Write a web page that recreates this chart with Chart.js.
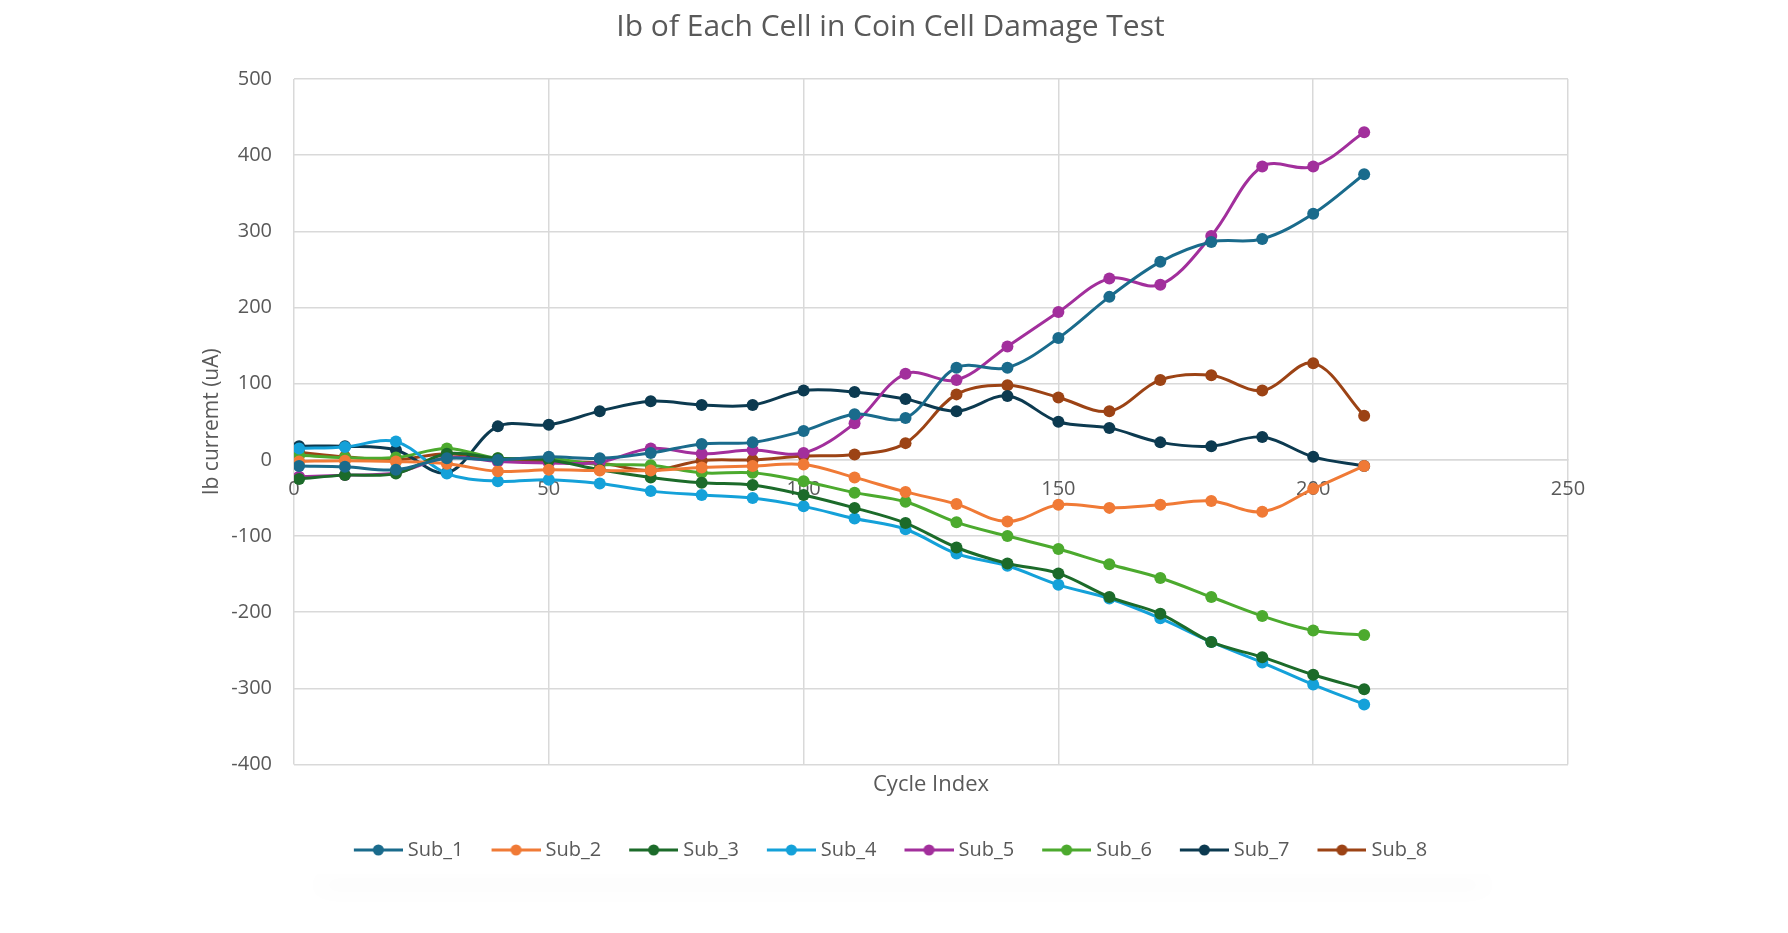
<!DOCTYPE html>
<html>
<head>
<meta charset="utf-8">
<title>Ib of Each Cell in Coin Cell Damage Test</title>
<script src="https://cdn.jsdelivr.net/npm/chart.js@4/dist/chart.umd.min.js"></script>
<style>
    html, body { margin: 0; padding: 0; background: #ffffff; }
    #wrap { position: relative; width: 1788px; height: 933px; }
    #card {
        position: absolute; left: 310px; top: 860px; width: 1185px; height: 14px;
        background: #ffffff;
        box-shadow: 0 18px 24px -6px rgba(0, 0, 0, 0.13);
    }
    #chart { position: absolute; left: 0; top: 0; }
</style>
</head>
<body>
<div id="wrap">
    <div id="card"></div>
    <canvas id="chart" width="1788" height="933"></canvas>
</div>
<script>
// Cycle index of each measurement
const cycles = [1, 10, 20, 30, 40, 50, 60, 70, 80, 90, 100, 110, 120, 130, 140, 150, 160, 170, 180, 190, 200, 210];

// Ib current (uA) per cell
const sub1 = [-8, -9, -13, 2, 0, 4, 2, 9, 21, 23, 38, 60, 55, 121, 121, 160, 214, 260, 286, 290, 323, 375];
const sub2 = [-2, -1, -2, -5, -15, -13, -14, -14, -10, -8, -6, -23, -42, -58, -81, -59, -63, -59, -54, -68, -38, -8];
const sub3 = [-25, -20, -18, 8, 2, 0, -13, -23, -30, -33, -46, -63, -83, -115, -136, -149, -180, -202, -239, -259, -282, -301];
const sub4 = [15, 17, 24, -18, -28, -26, -31, -41, -46, -50, -61, -77, -91, -123, -139, -164, -182, -208, -239, -266, -295, -321];
const sub5 = [-22, -20, -17, 3, -2, -4, -3, 15, 8, 13, 9, 48, 113, 105, 149, 194, 238, 230, 294, 385, 385, 430];
const sub6 = [6, 3, 3, 15, 2, 2, -6, -7, -17, -17, -28, -43, -55, -82, -100, -117, -137, -155, -180, -205, -224, -230];
const sub7 = [18, 18, 13, -17, 44, 46, 64, 77, 72, 72, 91, 89, 80, 64, 84, 50, 42, 23, 18, 30, 4, -8];
const sub8 = [10, 4, 0, 8, 0, -2, -4, -14, -1, 0, 5, 7, 22, 86, 98, 82, 64, 105, 111, 91, 127, 58];

const seriesNames = ['Sub_1', 'Sub_2', 'Sub_3', 'Sub_4', 'Sub_5', 'Sub_6', 'Sub_7', 'Sub_8'];
const seriesValues = [sub1, sub2, sub3, sub4, sub5, sub6, sub7, sub8];
const seriesColors = ['#1a6b8c', '#f07a36', '#1c6b2a', '#14a1d9', '#a22f9c', '#4caa2e', '#0c3a50', '#9c4315'];

// x and y tick settings
const xMin = 0, xMax = 250, xStep = 50;
const yMin = -400, yMax = 500, yStep = 100;

const textColor = '#595959';
const gridColor = '#d9d9d9';
const fontFamily = '"Open Sans", "Noto Sans", sans-serif';

// line+marker swatch for the legend; wider than the legend box so the
// line runs close to the label text like in Excel
function makeSwatch(color) {
    const c = document.createElement('canvas');
    c.width = 54;
    c.height = 14;
    const g = c.getContext('2d');
    g.strokeStyle = color;
    g.lineWidth = 3;
    g.beginPath();
    g.moveTo(5, 7);
    g.lineTo(54, 7);
    g.stroke();
    g.fillStyle = color;
    g.beginPath();
    g.arc(29.5, 7, 5.5, 0, Math.PI * 2);
    g.fill();
    return c;
}

const datasets = seriesNames.map((name, i) => ({
    label: name,
    data: cycles.map((x, j) => ({ x: x, y: seriesValues[i][j] })),
    borderColor: seriesColors[i],
    backgroundColor: seriesColors[i],
    borderWidth: 3,
    pointRadius: 6,
    pointBorderWidth: 0,
    pointHoverRadius: 6,
    tension: 0.35,
    fill: false,
    swatch: makeSwatch(seriesColors[i]),
}));

new Chart(document.getElementById('chart').getContext('2d'), {
    type: 'line',
    data: { datasets: datasets },
    options: {
        responsive: false,
        animation: false,
        layout: {
            padding: { left: 0, right: 7, top: 0, bottom: 63 },
        },
        plugins: {
            title: {
                display: true,
                text: 'Ib of Each Cell in Coin Cell Damage Test',
                color: textColor,
                font: { family: fontFamily, size: 30, weight: 'normal' },
                padding: { top: 9, bottom: 34 },
            },
            legend: {
                position: 'bottom',
                labels: {
                    color: textColor,
                    font: { family: fontFamily, size: 20 },
                    usePointStyle: true,
                    pointStyleWidth: 44,
                    padding: 28,
                    generateLabels: (chart) => chart.data.datasets.map((ds, i) => ({
                        text: ds.label,
                        fillStyle: ds.borderColor,
                        strokeStyle: ds.borderColor,
                        fontColor: textColor,
                        lineWidth: 0,
                        pointStyle: ds.swatch,
                        hidden: false,
                        datasetIndex: i,
                    })),
                },
            },
            tooltip: { enabled: false },
        },
        scales: {
            x: {
                type: 'linear',
                position: { y: 0 },
                min: xMin,
                max: xMax,
                ticks: {
                    stepSize: xStep,
                    color: textColor,
                    font: { family: fontFamily, size: 20 },
                    padding: 17,
                },
                grid: { color: gridColor, lineWidth: 1.5, drawTicks: false },
                border: { color: gridColor, width: 1.5 },
            },
            x2: {
                type: 'linear',
                position: 'bottom',
                min: 0,
                max: 1,
                ticks: { display: false },
                grid: { display: false, drawTicks: false },
                border: { display: false },
                title: {
                    display: true,
                    text: 'Cycle Index',
                    color: textColor,
                    font: { family: fontFamily, size: 22 },
                    padding: { top: 7, bottom: 14 },
                },
            },
            y: {
                type: 'linear',
                min: yMin,
                max: yMax,
                ticks: {
                    stepSize: yStep,
                    color: textColor,
                    font: { family: fontFamily, size: 20 },
                    padding: 22,
                },
                grid: { color: gridColor, lineWidth: 1.5, drawTicks: false },
                border: { display: false },
                title: {
                    display: true,
                    text: 'Ib curremt (uA)',
                    color: textColor,
                    font: { family: fontFamily, size: 21 },
                    padding: { top: 199, bottom: 0 },
                },
                afterFit: (axis) => {
                    axis.width = 294;
                },
            },
            // empty right-hand axis, only reserves the right margin
            y2: {
                type: 'linear',
                position: 'right',
                min: 0,
                max: 1,
                ticks: { display: false },
                grid: { display: false, drawTicks: false },
                border: { display: false },
                afterFit: (axis) => {
                    axis.width = 213;
                },
            },
        },
    },
});
</script>
</body>
</html>
